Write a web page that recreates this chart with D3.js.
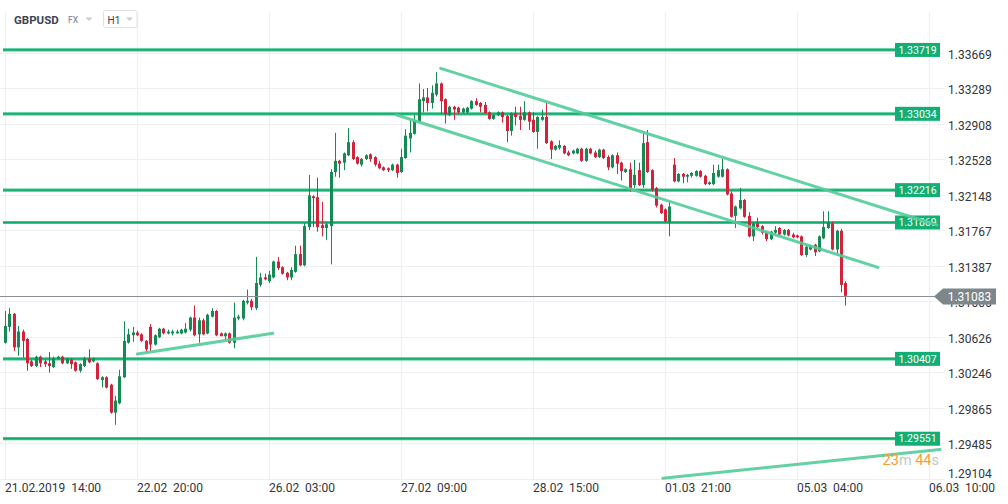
<!DOCTYPE html>
<html><head><meta charset="utf-8">
<script src="https://cdn.jsdelivr.net/npm/d3@7"></script>
<style>
html,body{margin:0;padding:0;background:#fff;overflow:hidden;}
svg{display:block;font-family:Roboto,"Open Sans",sans-serif;}
</style></head><body>
<svg id="chart" width="1008" height="504"></svg>
<script>
const symbol = "GBPUSD";
const market = "FX";
const interval = "H1";

const opens = [1.3058,1.3075,1.3089,1.3053,1.3070,1.3062,1.3038,1.3033,1.3043,1.3038,
1.3036,1.3032,1.3041,1.3043,1.3036,1.3040,1.3037,1.3028,1.3033,1.3041,
1.3038,1.3036,1.3018,1.3021,1.3013,1.2983,1.2993,1.3021,1.3058,1.3066,
1.3069,1.3067,1.3060,1.3075,1.3056,1.3064,1.3073,1.3068,1.3068,1.3068,
1.3068,1.3069,1.3072,1.3085,1.3067,1.3082,1.3068,1.3086,1.3092,1.3068,
1.3065,1.3068,1.3058,1.3084,1.3084,1.3101,1.3103,1.3095,1.3120,1.3128,
1.3124,1.3128,1.3145,1.3139,1.3133,1.3128,1.3134,1.3153,1.3141,1.3182,
1.3215,1.3214,1.3184,1.3181,1.3183,1.3241,1.3253,1.3251,1.3259,1.3273,
1.3257,1.3249,1.3255,1.3260,1.3257,1.3250,1.3246,1.3245,1.3243,1.3249,
1.3241,1.3256,1.3277,1.3282,1.3295,1.3317,1.3321,1.3315,1.3324,1.3336,
1.3319,1.3302,1.3311,1.3310,1.3305,1.3305,1.3309,1.3317,1.3315,1.3313,
1.3305,1.3298,1.3302,1.3305,1.3301,1.3285,1.3304,1.3301,1.3297,1.3305,
1.3297,1.3284,1.3297,1.3300,1.3274,1.3265,1.3267,1.3269,1.3262,1.3261,
1.3261,1.3266,1.3253,1.3266,1.3262,1.3257,1.3265,1.3257,1.3246,1.3259,
1.3251,1.3241,1.3244,1.3227,1.3243,1.3227,1.3273,1.3243,1.3224,1.3206,
1.3201,1.3187,1.3249,1.3231,1.3239,1.3236,1.3237,1.3237,1.3242,1.3237,
1.3228,1.3228,1.3236,1.3236,1.3244,1.3218,1.3194,1.3202,1.3211,1.3194,
1.3172,1.3186,1.3183,1.3176,1.3169,1.3176,1.3181,1.3174,1.3179,1.3174,
1.3173,1.3172,1.3152,1.3158,1.3163,1.3156,1.3170,1.3181,1.3186,1.3158,
1.3178,1.3122];

const highs = [1.3092,1.3095,1.3090,1.3076,1.3072,1.3063,1.3040,1.3044,1.3044,1.3040,
1.3048,1.3043,1.3044,1.3044,1.3042,1.3041,1.3038,1.3036,1.3043,1.3051,
1.3042,1.3037,1.3022,1.3022,1.3014,1.3001,1.3029,1.3081,1.3073,1.3075,
1.3071,1.3068,1.3061,1.3078,1.3067,1.3074,1.3074,1.3072,1.3072,1.3072,
1.3073,1.3079,1.3086,1.3098,1.3085,1.3084,1.3089,1.3095,1.3093,1.3069,
1.3069,1.3069,1.3101,1.3088,1.3104,1.3115,1.3105,1.3150,1.3133,1.3132,
1.3135,1.3146,1.3150,1.3140,1.3134,1.3139,1.3162,1.3162,1.3186,1.3238,
1.3216,1.3235,1.3209,1.3187,1.3244,1.3283,1.3254,1.3262,1.3288,1.3275,
1.3258,1.3256,1.3260,1.3261,1.3258,1.3253,1.3247,1.3246,1.3250,1.3250,
1.3266,1.3287,1.3297,1.3302,1.3336,1.3330,1.3331,1.3334,1.3348,1.3337,
1.3320,1.3312,1.3312,1.3311,1.3310,1.3311,1.3318,1.3320,1.3316,1.3316,
1.3306,1.3303,1.3306,1.3306,1.3302,1.3305,1.3311,1.3311,1.3317,1.3306,
1.3305,1.3301,1.3308,1.3315,1.3275,1.3270,1.3275,1.3270,1.3264,1.3265,
1.3267,1.3267,1.3267,1.3267,1.3264,1.3266,1.3266,1.3259,1.3260,1.3262,
1.3252,1.3245,1.3251,1.3254,1.3251,1.3283,1.3286,1.3244,1.3225,1.3207,
1.3202,1.3209,1.3256,1.3240,1.3240,1.3239,1.3241,1.3243,1.3243,1.3238,
1.3231,1.3249,1.3249,1.3255,1.3245,1.3220,1.3205,1.3224,1.3212,1.3198,
1.3187,1.3192,1.3184,1.3177,1.3178,1.3183,1.3182,1.3180,1.3180,1.3176,
1.3174,1.3173,1.3162,1.3163,1.3164,1.3173,1.3199,1.3199,1.3188,1.3179,
1.3180,1.3124];

const lows = [1.3057,1.3070,1.3049,1.3044,1.3042,1.3028,1.3032,1.3032,1.3032,1.3032,
1.3026,1.3031,1.3040,1.3035,1.3035,1.3030,1.3027,1.3026,1.3032,1.3036,
1.3037,1.3018,1.3010,1.3009,1.2982,1.2970,1.2992,1.3020,1.3057,1.3059,
1.3065,1.3059,1.3048,1.3049,1.3055,1.3063,1.3067,1.3067,1.3066,1.3068,
1.3067,1.3068,1.3070,1.3065,1.3058,1.3066,1.3067,1.3085,1.3065,1.3065,
1.3061,1.3057,1.3052,1.3082,1.3082,1.3099,1.3093,1.3093,1.3118,1.3125,
1.3122,1.3127,1.3136,1.3131,1.3125,1.3125,1.3133,1.3140,1.3140,1.3179,
1.3182,1.3177,1.3172,1.3168,1.3142,1.3236,1.3235,1.3243,1.3258,1.3254,
1.3249,1.3247,1.3254,1.3252,1.3247,1.3244,1.3242,1.3241,1.3242,1.3235,
1.3240,1.3255,1.3262,1.3281,1.3294,1.3305,1.3306,1.3309,1.3322,1.3303,
1.3293,1.3301,1.3297,1.3303,1.3304,1.3304,1.3308,1.3312,1.3305,1.3304,
1.3297,1.3297,1.3301,1.3294,1.3273,1.3280,1.3291,1.3286,1.3296,1.3286,
1.3283,1.3266,1.3296,1.3271,1.3255,1.3264,1.3265,1.3260,1.3258,1.3260,
1.3260,1.3252,1.3252,1.3260,1.3256,1.3256,1.3255,1.3243,1.3245,1.3239,
1.3232,1.3240,1.3220,1.3224,1.3226,1.3224,1.3240,1.3220,1.3203,1.3196,
1.3187,1.3172,1.3230,1.3230,1.3229,1.3230,1.3235,1.3236,1.3235,1.3227,
1.3227,1.3227,1.3235,1.3235,1.3216,1.3192,1.3181,1.3201,1.3192,1.3171,
1.3167,1.3181,1.3174,1.3167,1.3168,1.3174,1.3173,1.3173,1.3172,1.3170,
1.3170,1.3151,1.3150,1.3157,1.3151,1.3155,1.3169,1.3180,1.3157,1.3153,
1.3112,1.3098];

const closes = [1.3076,1.3089,1.3053,1.3070,1.3060,1.3036,1.3033,1.3043,1.3036,1.3035,
1.3033,1.3041,1.3043,1.3036,1.3041,1.3035,1.3028,1.3035,1.3041,1.3037,
1.3041,1.3019,1.3021,1.3010,1.2983,1.2996,1.3022,1.3060,1.3067,1.3069,
1.3066,1.3060,1.3051,1.3056,1.3066,1.3073,1.3068,1.3070,1.3070,1.3070,
1.3072,1.3073,1.3085,1.3066,1.3082,1.3067,1.3088,1.3092,1.3066,1.3065,
1.3068,1.3058,1.3085,1.3086,1.3103,1.3103,1.3096,1.3122,1.3128,1.3126,
1.3131,1.3145,1.3138,1.3132,1.3128,1.3136,1.3153,1.3141,1.3183,1.3216,
1.3213,1.3182,1.3181,1.3185,1.3241,1.3253,1.3250,1.3261,1.3273,1.3255,
1.3250,1.3255,1.3259,1.3255,1.3249,1.3245,1.3243,1.3243,1.3249,1.3240,
1.3257,1.3280,1.3283,1.3296,1.3319,1.3321,1.3315,1.3326,1.3336,1.3317,
1.3303,1.3311,1.3308,1.3305,1.3309,1.3310,1.3317,1.3313,1.3311,1.3304,
1.3298,1.3302,1.3305,1.3300,1.3285,1.3304,1.3300,1.3297,1.3305,1.3295,
1.3284,1.3300,1.3300,1.3272,1.3265,1.3269,1.3270,1.3261,1.3259,1.3264,
1.3266,1.3253,1.3266,1.3261,1.3257,1.3265,1.3256,1.3246,1.3259,1.3250,
1.3242,1.3244,1.3224,1.3238,1.3227,1.3272,1.3241,1.3222,1.3205,1.3197,
1.3188,1.3204,1.3231,1.3239,1.3236,1.3238,1.3240,1.3242,1.3236,1.3228,
1.3230,1.3240,1.3243,1.3244,1.3217,1.3193,1.3204,1.3211,1.3193,1.3172,
1.3186,1.3182,1.3176,1.3169,1.3177,1.3179,1.3174,1.3179,1.3173,1.3171,
1.3171,1.3152,1.3161,1.3162,1.3155,1.3172,1.3182,1.3187,1.3158,1.3178,
1.3120,1.31083];

const priceTicks = [1.33669,1.33289,1.32908,1.32528,1.32148,1.31767,1.31387,1.31006,1.30626,1.30246,1.29865,1.29485,1.29104];
const timeLabels = ["21.02.2019  14:00","22.02  20:00","26.02  03:00","27.02  09:00","28.02  15:00","01.03  21:00","05.03  04:00","06.03  10:00"];
const timeLabelIndex = [0,30,60,90,120,150,180,210];

const levels = [1.33719,1.33034,1.32216,1.31869,1.30407,1.29551];
const trendSupport = [[30.07,1.30459],[60.84,1.30681]];
const channelUpper = [[99.02,1.33522],[211.8,1.31842]];
const channelLower = [[89.02,1.33021],[198.4,1.31388]];
const trendBottom = [[149.5,1.29126],[212.5,1.29435]];
const trendLines = [trendSupport, channelUpper, channelLower, trendBottom];
const lastPrice = 1.31083;
const timerParts = [["23","#f5a030"],["m","#c3c6c9"],[" 44","#f5a030"],["s","#c3c6c9"]];

const svg = d3.select("#chart");
const x = d3.scaleLinear().domain([0,210]).range([5,929]);
const y = d3.scaleLinear().domain([1.29104,1.33669]).range([480.4,54.6]);
const fmt = d3.format(".5f");

// grid
const grid = svg.append("g");
grid.selectAll("line.h").data(priceTicks).join("line")
  .attr("x1",0).attr("x2",945)
  .attr("y1",d=>Math.round(y(d)-1.7)+0.5).attr("y2",d=>Math.round(y(d)-1.7)+0.5)
  .attr("stroke","#eeeff1").attr("stroke-width",1.2);
grid.selectAll("line.v").data(timeLabelIndex).join("line")
  .attr("x1",d=>Math.round(x(d))+0.5).attr("x2",d=>Math.round(x(d))+0.5)
  .attr("y1",12).attr("y2",479)
  .attr("stroke","#eeeff1").attr("stroke-width",1.2);

// horizontal levels
const lv = svg.append("g");
lv.selectAll("line.o").data(levels).join("line")
  .attr("x1",3).attr("x2",895).attr("y1",d=>y(d)).attr("y2",d=>y(d))
  .attr("stroke","#3cc28c").attr("stroke-width",3.2);
lv.selectAll("line.i").data(levels).join("line")
  .attr("x1",3).attr("x2",895).attr("y1",d=>y(d)).attr("y2",d=>y(d))
  .attr("stroke","#0ea96a").attr("stroke-width",1.2);

// candles
const idx = d3.range(opens.length);
const up = "#168a55", dn = "#d2233b";
const cg = svg.append("g");
cg.selectAll("line").data(idx).join("line")
  .attr("x1",i=>Math.round(x(i))+0.5).attr("x2",i=>Math.round(x(i))+0.5)
  .attr("y1",i=>y(highs[i])).attr("y2",i=>y(lows[i]))
  .attr("stroke",i=>closes[i]>=opens[i]?up:dn).attr("stroke-width",1);
cg.selectAll("rect").data(idx).join("rect")
  .attr("x",i=>Math.round(x(i))-1).attr("width",3)
  .attr("y",i=>y(Math.max(opens[i],closes[i])))
  .attr("height",i=>Math.max(1,Math.abs(y(opens[i])-y(closes[i]))))
  .attr("fill",i=>closes[i]>=opens[i]?up:dn);

// current price line
svg.append("line").attr("x1",0).attr("x2",935)
  .attr("y1",Math.round(y(lastPrice))+0.5).attr("y2",Math.round(y(lastPrice))+0.5)
  .attr("stroke","#8a9095").attr("stroke-width",1);

// level labels
const lb = svg.append("g");
lb.selectAll("rect").data(levels).join("rect")
  .attr("x",895).attr("width",45).attr("y",d=>y(d)-7).attr("height",14)
  .attr("fill","#13ae73");
lb.selectAll("text").data(levels).join("text")
  .attr("x",917.5).attr("y",d=>y(d)).attr("dy","0.36em")
  .attr("text-anchor","middle").attr("fill","#fff").attr("font-size",10.5)
  .text(d=>fmt(d));

// trend lines (drawn over label boxes)
const line = d3.line().x(d=>x(d[0])).y(d=>y(d[1]));
svg.append("g").selectAll("path").data(trendLines).join("path")
  .attr("d",line).attr("fill","none")
  .attr("stroke","#52cc9a").attr("stroke-width",3).attr("stroke-opacity",0.9)
  .attr("stroke-linecap","round");

// price axis labels
svg.append("g").selectAll("text").data(priceTicks).join("text")
  .attr("x",948).attr("y",d=>Math.min(y(d),474)).attr("dy","0.36em")
  .attr("fill","#30363c").attr("font-size",12)
  .text(d=>fmt(d));

// time axis labels
svg.append("g").selectAll("text").data(timeLabelIndex).join("text")
  .attr("x",(d)=>x(d)).attr("y",492)
  .attr("fill","#30363c").attr("font-size",12)
  .style("white-space","pre")
  .text((d,i)=>timeLabels[i]);

// current price tag
const ly = Math.round(y(lastPrice))+0.5;
svg.append("path")
  .attr("d",`M934,${ly} L943,${ly-8} L996,${ly-8} L996,${ly+8} L943,${ly+8} Z`)
  .attr("fill","#7d868b");
svg.append("text").attr("x",969.5).attr("y",ly).attr("dy","0.36em")
  .attr("text-anchor","middle").attr("fill","#fff").attr("font-size",12)
  .text(fmt(lastPrice));

// timer
const tt = svg.append("text").attr("x",939).attr("y",465).attr("text-anchor","end")
  .attr("font-size",14.5).style("white-space","pre");
tt.selectAll("tspan").data(timerParts).join("tspan")
  .attr("fill",d=>d[1]).text(d=>d[0]);

// header
const hd = svg.append("g");
hd.append("text").attr("x",14).attr("y",24).attr("font-size",11.5)
  .attr("font-weight","bold").attr("fill","#3b4452").text(symbol);
hd.append("text").attr("x",68).attr("y",22.8).attr("font-size",8.5)
  .attr("font-weight",500).attr("fill","#8793a0").text(market);
hd.append("path").attr("d","M85.5,17.5 L92.5,17.5 L89,21 Z").attr("fill","#c8cdd2");
hd.append("rect").attr("x",103.5).attr("y",10.5).attr("width",33.5).attr("height",17)
  .attr("rx",2).attr("fill","#fff").attr("stroke","#dde1e5");
hd.append("text").attr("x",107.5).attr("y",23.5).attr("font-size",10)
  .attr("fill","#3b4452").text(interval);
hd.append("path").attr("d","M126,17.5 L133,17.5 L129.5,21 Z").attr("fill","#c8cdd2");
</script>
</body></html>
